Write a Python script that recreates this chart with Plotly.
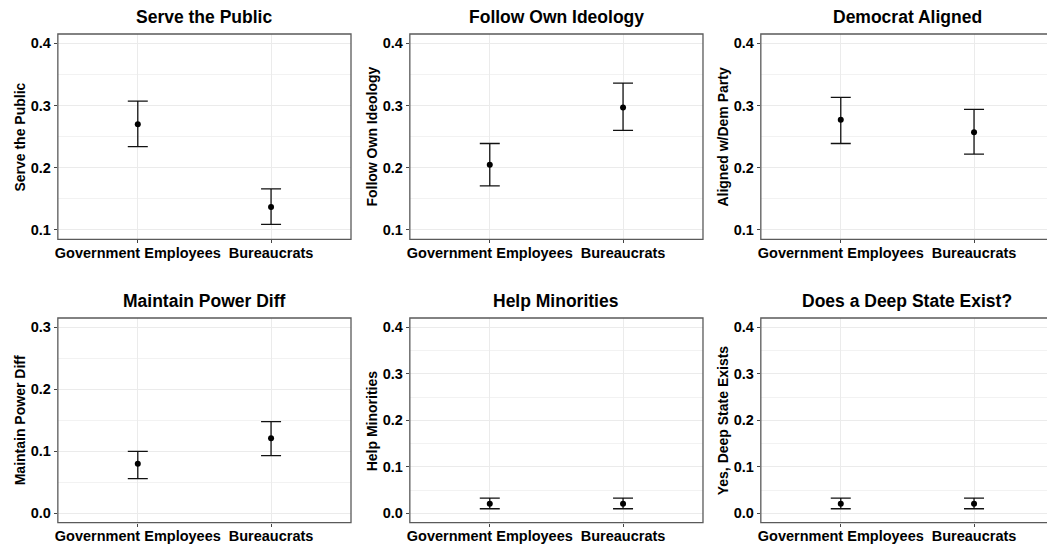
import plotly.graph_objects as go

# ---- data ----
groups = ["Government Employees", "Bureaucrats"]

panel_titles = ["Serve the Public", "Follow Own Ideology", "Democrat Aligned",
                "Maintain Power Diff", "Help Minorities", "Does a Deep State Exist?"]
y_titles = ["Serve the Public", "Follow Own Ideology", "Aligned w/Dem Party",
            "Maintain Power Diff", "Help Minorities", "Yes, Deep State Exists"]

serve_mean = [0.270, 0.137]
serve_lo = [0.234, 0.109]
serve_hi = [0.307, 0.166]

ideology_mean = [0.205, 0.297]
ideology_lo = [0.171, 0.260]
ideology_hi = [0.239, 0.336]

dem_mean = [0.277, 0.257]
dem_lo = [0.239, 0.222]
dem_hi = [0.313, 0.294]

power_mean = [0.080, 0.121]
power_lo = [0.056, 0.093]
power_hi = [0.100, 0.148]

minority_mean = [0.021, 0.021]
minority_lo = [0.010, 0.010]
minority_hi = [0.033, 0.033]

deepstate_mean = [0.021, 0.021]
deepstate_lo = [0.010, 0.010]
deepstate_hi = [0.033, 0.033]

series = [
    (serve_mean, serve_lo, serve_hi),
    (ideology_mean, ideology_lo, ideology_hi),
    (dem_mean, dem_lo, dem_hi),
    (power_mean, power_lo, power_hi),
    (minority_mean, minority_lo, minority_hi),
    (deepstate_mean, deepstate_lo, deepstate_hi),
]

# ---- layout geometry (pixels) ----
W, H = 1047, 547
col_px = [(55, 349), (408, 702), (760, 1054)]
row_px = [(34, 239.3), (318, 522.7)]
y_ranges = [(0.085, 0.415)] * 3 + [(-0.015, 0.315), (-0.02, 0.42), (-0.02, 0.42)]

FONT = "Liberation Sans, Arial, sans-serif"
GRID = "#ebebeb"
BORDER = "#5a5a5a"

fig = go.Figure()
layout = dict(
    width=W, height=H,
    margin=dict(l=0, r=0, t=0, b=0),
    paper_bgcolor="white", plot_bgcolor="white",
    showlegend=False,
    font=dict(family=FONT, color="black"),
)
shapes, annotations = [], []

for i in range(6):
    r, c = divmod(i, 3)
    x0p, x1p = col_px[c]
    ytop, ybot = row_px[r]
    x1_vis = min(x1p, W)
    full_w = x1p - x0p
    vis_w = x1_vis - x0p
    xa = "x" if i == 0 else f"x{i + 1}"
    ya = "y" if i == 0 else f"y{i + 1}"
    xkey = "xaxis" if i == 0 else f"xaxis{i + 1}"
    ykey = "yaxis" if i == 0 else f"yaxis{i + 1}"

    m, lo, hi = series[i]
    fig.add_trace(go.Scatter(
        x=groups, y=m, mode="markers", xaxis=xa, yaxis=ya,
        marker=dict(color="black", size=6),
        error_y=dict(type="data", symmetric=False,
                     array=[h - v for h, v in zip(hi, m)],
                     arrayminus=[v - l for v, l in zip(m, lo)],
                     color="#111111", thickness=1.3, width=10),
        hoverinfo="skip",
    ))

    layout[xkey] = dict(
        domain=[x0p / W, x1_vis / W], anchor=ya,
        type="category",
        range=[-0.6, -0.6 + 2.2 * vis_w / full_w],
        showgrid=True, gridcolor=GRID, gridwidth=1,
        zeroline=False, showline=False,
        ticks="outside", ticklen=3, tickcolor="#444", tickwidth=1,
        ticklabelstandoff=-3,
        tickfont=dict(family=FONT, size=14.5, color="black", weight="bold"),
        fixedrange=True,
    )
    layout[ykey] = dict(
        domain=[1 - ybot / H, 1 - ytop / H], anchor=xa,
        range=list(y_ranges[i]),
        dtick=0.1, tick0=0, tickformat=".1f",
        showgrid=True, gridcolor=GRID, gridwidth=1,
        minor=dict(dtick=0.05, tick0=0, showgrid=True, gridcolor="#f2f2f2", gridwidth=1),
        zeroline=False, showline=False,
        ticks="outside", ticklen=3, tickcolor="#444", tickwidth=1,
        tickfont=dict(family=FONT, size=14.5, color="black", weight="bold"),
        fixedrange=True,
    )

    # panel border
    shapes.append(dict(type="rect", xref="paper", yref="paper",
                       x0=x0p / W, x1=x1p / W, y0=1 - ybot / H, y1=1 - ytop / H,
                       line=dict(color=BORDER, width=1.3), fillcolor="rgba(0,0,0,0)",
                       layer="above"))

    # panel title
    annotations.append(dict(text=panel_titles[i], xref="paper", yref="paper",
                            x=(x0p + full_w / 2) / W, y=1 - (ytop - 17) / H,
                            xanchor="center", yanchor="middle", showarrow=False,
                            font=dict(family=FONT, size=17.5, color="black", weight="bold")))
    # y-axis title
    annotations.append(dict(text=y_titles[i], xref="paper", yref="paper",
                            x=(x0p - 38) / W, y=1 - (ytop + ybot) / 2 / H,
                            xanchor="center", yanchor="middle", textangle=-90,
                            showarrow=False,
                            font=dict(family=FONT, size=14, color="black", weight="bold")))

layout["shapes"] = shapes
layout["annotations"] = annotations
fig.update_layout(**layout)

fig.write_html("out.html", config={"displayModeBar": False})
